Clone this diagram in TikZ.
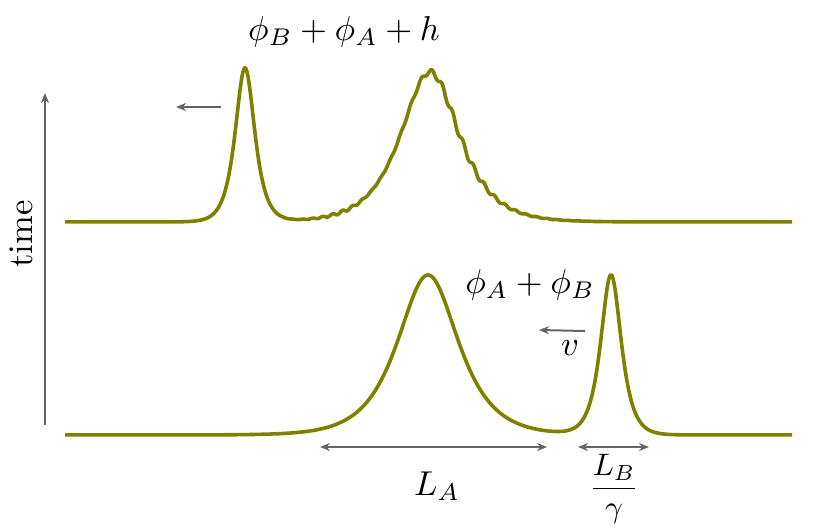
\documentclass[tikz,border=0pt]{standalone}
\usetikzlibrary{arrows.meta}
\definecolor{curvecol}{RGB}{128,128,0}
\definecolor{arrcol}{RGB}{100,100,100}
\begin{document}
\begin{tikzpicture}[x=1pt,y=-1pt,
  declare function={sech(\u)=2*exp(-min(abs(\u),9))/(1+(exp(-min(abs(\u),9)))^2);},
  wave/.style={curvecol, line width=3.6pt, line join=round},
  garrow/.style={arrcol, line width=2pt, -{Stealth[length=10pt,width=8pt]}},
  dblarrow/.style={arrcol, line width=2pt, {Stealth[length=10pt,width=8pt]}-{Stealth[length=10pt,width=8pt]}},
  lbl/.style={scale=3.45, inner sep=0pt}]
\useasboundingbox (0,0) rectangle (817,528);

% time axis
\coordinate (ax0) at (45,425);
\coordinate (ax1) at (45,93);
\draw[garrow] (ax0) -- (ax1);
\node[lbl, rotate=90] (time) at (21,234) {time};

% bottom wave
\draw[wave] plot[domain=65:792, samples=728]
  (\x, {435-160*sech((\x-428)/27)-160*sech((\x-611)/9.1)});

% top wave
\draw[wave] plot[domain=65:792, samples=728]
  (\x, {222-154*sech((\x-245)/8.7)-150*sech((\x-430)/26)
        -3.5*sech((\x-455)/28)*sin(34.2857*(\x-429))
        -1.5*sech((\x-345)/18)*sin(36*(\x-340))});

% labels
\node[lbl] (top) at (344,32) {$\phi_B+\phi_A+h$};
\node[lbl] (bot) at (530,285) {$\phi_A+\phi_B$};

% velocity arrows
\coordinate (ta0) at (221,107);
\coordinate (ta1) at (176,107);
\draw[garrow] (ta0) -- (ta1);
\coordinate (ba0) at (585,331);
\coordinate (ba1) at (539,330);
\draw[garrow] (ba0) -- (ba1);
\node[lbl] (v) at (570,348) {$v$};

% widths
\coordinate (la0) at (320,447);
\coordinate (la1) at (547,447);
\draw[dblarrow] (la0) -- (la1);
\node[lbl] (LA) at (437,486) {$L_A$};
\coordinate (lb0) at (578,447);
\coordinate (lb1) at (649,447);
\draw[dblarrow] (lb0) -- (lb1);
\node[lbl, scale=0.9] (LB) at (614,489) {$\displaystyle\frac{L_B}{\gamma}$};
\end{tikzpicture}
\end{document}
